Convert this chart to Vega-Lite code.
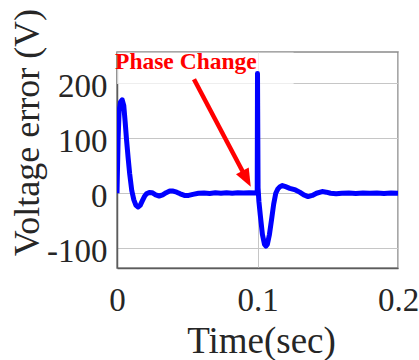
{
  "$schema": "https://vega.github.io/schema/vega-lite/v6.json",
  "width": 281,
  "height": 216,
  "autosize": {"type": "none"},
  "padding": {"left": 117, "top": 52, "right": 21, "bottom": 92},
  "background": "white",
  "config": {
    "font": "Liberation Serif",
    "view": {"stroke": "#8a8a8a", "strokeWidth": 1.5},
    "axis": {
      "labelFont": "Liberation Serif",
      "titleFont": "Liberation Serif",
      "labelColor": "#262626",
      "titleColor": "#262626",
      "titleFontWeight": "normal",
      "gridColor": "#c6c6c6",
      "gridWidth": 1,
      "domainColor": "#5c5c5c",
      "domainWidth": 1.5,
      "ticks": false,
      "labelFlush": false,
      "labelOverlap": false,
      "labelBound": false
    }
  },
  "layer": [
    {
      "data": {"values": [{"t": 0, "t2": 0.1257, "v": 199, "v2": 256}]},
      "mark": {"type": "rect", "fill": "white", "opacity": 0.7},
      "encoding": {
        "x": {"field": "t", "type": "quantitative"},
        "x2": {"field": "t2"},
        "y": {"field": "v", "type": "quantitative"},
        "y2": {"field": "v2"}
      }
    },
    {
      "data": {"values": [
        {"t": 0, "v": 0}, {"t": 0.0008, "v": 100}, {"t": 0.0015, "v": 150}, {"t": 0.0025, "v": 166},
        {"t": 0.0037, "v": 170}, {"t": 0.0048, "v": 160}, {"t": 0.0058, "v": 130}, {"t": 0.0068, "v": 97},
        {"t": 0.0079, "v": 65}, {"t": 0.009, "v": 36}, {"t": 0.0105, "v": 5}, {"t": 0.012, "v": -12},
        {"t": 0.0135, "v": -22}, {"t": 0.015, "v": -25}, {"t": 0.0165, "v": -22}, {"t": 0.018, "v": -14},
        {"t": 0.0195, "v": -6}, {"t": 0.021, "v": -1}, {"t": 0.023, "v": 1.5}, {"t": 0.025, "v": 1},
        {"t": 0.0275, "v": -3}, {"t": 0.03, "v": -5}, {"t": 0.0325, "v": -3}, {"t": 0.035, "v": 1},
        {"t": 0.0375, "v": 4}, {"t": 0.04, "v": 4}, {"t": 0.0425, "v": 2}, {"t": 0.045, "v": -1},
        {"t": 0.048, "v": -4}, {"t": 0.051, "v": -4}, {"t": 0.054, "v": -2}, {"t": 0.058, "v": 0},
        {"t": 0.062, "v": 0.5}, {"t": 0.066, "v": -0.3}, {"t": 0.07, "v": 0.8}, {"t": 0.074, "v": 0},
        {"t": 0.078, "v": 1}, {"t": 0.082, "v": 0.2}, {"t": 0.086, "v": 1}, {"t": 0.09, "v": 0.4},
        {"t": 0.094, "v": 1}, {"t": 0.0998, "v": 0.5}, {"t": 0.1, "v": 218}, {"t": 0.1004, "v": 10},
        {"t": 0.101, "v": -15}, {"t": 0.102, "v": -40}, {"t": 0.1035, "v": -75}, {"t": 0.105, "v": -93},
        {"t": 0.106, "v": -96}, {"t": 0.107, "v": -93}, {"t": 0.1085, "v": -75}, {"t": 0.11, "v": -48},
        {"t": 0.1115, "v": -20}, {"t": 0.113, "v": 0}, {"t": 0.1145, "v": 8}, {"t": 0.116, "v": 12},
        {"t": 0.1177, "v": 14}, {"t": 0.12, "v": 12}, {"t": 0.123, "v": 9}, {"t": 0.127, "v": 6},
        {"t": 0.13, "v": 2}, {"t": 0.133, "v": -3}, {"t": 0.136, "v": -6}, {"t": 0.139, "v": -4},
        {"t": 0.142, "v": 0}, {"t": 0.146, "v": 3}, {"t": 0.149, "v": 2}, {"t": 0.152, "v": 0},
        {"t": 0.156, "v": -1}, {"t": 0.16, "v": 0}, {"t": 0.165, "v": 0.5}, {"t": 0.17, "v": -0.3},
        {"t": 0.175, "v": 0.5}, {"t": 0.18, "v": 0}, {"t": 0.185, "v": 0.5}, {"t": 0.19, "v": -0.3},
        {"t": 0.195, "v": 0.4}, {"t": 0.2, "v": 0}
      ]},
      "mark": {"type": "line", "color": "#0000ff", "strokeWidth": 5, "strokeJoin": "round", "clip": true},
      "encoding": {
        "x": {
          "field": "t", "type": "quantitative",
          "scale": {"domain": [0, 0.2], "nice": false, "zero": false},
          "axis": {
            "title": "Time(sec)", "values": [0, 0.1, 0.2], "labelExpr": "datum.value + ''",
            "labelFont": "Liberation Serif", "titleFont": "Liberation Serif",
            "labelFontSize": 33, "labelBaseline": "alphabetic", "labelPadding": 42,
            "titleFontSize": 37, "titleX": 144, "titleY": 84, "titleBaseline": "alphabetic", "titleAlign": "center"
          }
        },
        "y": {
          "field": "v", "type": "quantitative",
          "scale": {"domain": [-136, 257], "nice": false, "zero": false},
          "axis": {
            "title": "Voltage error (V)", "values": [-100, 0, 100, 200], "labelExpr": "datum.value + ''",
            "labelFont": "Liberation Serif", "titleFont": "Liberation Serif",
            "labelFontSize": 33, "labelBaseline": "alphabetic", "labelOffset": 13.4, "labelPadding": 10,
            "titleFontSize": 36, "titleAngle": -90, "titleX": -79, "titleY": 80, "titleBaseline": "alphabetic", "titleAlign": "center"
          }
        },
        "order": {"field": "t", "type": "quantitative"}
      }
    },
    {
      "data": {"values": [{"t": 0.0548, "v": 207.3, "t2": 0.0918, "v2": 28.1}]},
      "mark": {"type": "rule", "color": "#ff0000", "strokeWidth": 4.5},
      "encoding": {
        "x": {"field": "t", "type": "quantitative"},
        "y": {"field": "v", "type": "quantitative"},
        "x2": {"field": "t2"},
        "y2": {"field": "v2"}
      }
    },
    {
      "data": {"values": [{"t": 0.0952, "v": 11.9}]},
      "mark": {"type": "point", "shape": "M0,0L-0.4,-1L0.4,-1Z", "size": 1296, "angle": -27.8, "filled": true, "color": "#ff0000", "opacity": 1, "strokeWidth": 0},
      "encoding": {
        "x": {"field": "t", "type": "quantitative"},
        "y": {"field": "v", "type": "quantitative"}
      }
    },
    {
      "data": {"values": [{"t": -0.0014, "v": 225.5, "label": "Phase Change"}]},
      "mark": {"type": "text", "font": "Liberation Serif", "fontWeight": "bold", "fontSize": 23.5, "color": "#ff0000", "align": "left", "baseline": "alphabetic"},
      "encoding": {
        "x": {"field": "t", "type": "quantitative"},
        "y": {"field": "v", "type": "quantitative"},
        "text": {"field": "label"}
      }
    }
  ]
}
